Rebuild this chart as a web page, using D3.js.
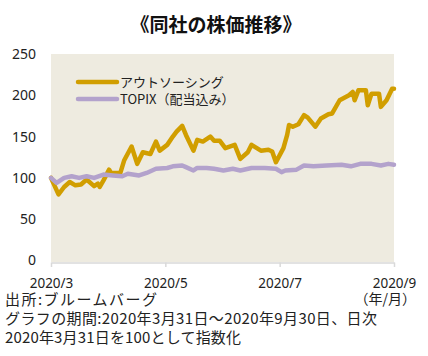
<!DOCTYPE html>
<html><head><meta charset="utf-8">
<script src="https://cdn.jsdelivr.net/npm/d3@7"></script>
<style>body{margin:0;background:#fff;}svg{display:block;}</style>
</head><body>
<svg id="c" width="428" height="356"></svg>
<script>
const title = "《同社の株価推移》";
const seriesNames = ["アウトソーシング", "TOPIX（配当込み）"];
const yTicks = [0, 50, 100, 150, 200, 250];
const xTickDates = ["2020-03-31", "2020-05-31", "2020-07-31", "2020-09-30"];
const outsourcingDates = ["2020-03-31","2020-04-04","2020-04-07","2020-04-10","2020-04-13","2020-04-16","2020-04-19","2020-04-23","2020-04-25","2020-04-26","2020-04-28","2020-05-01","2020-05-02","2020-05-07","2020-05-09","2020-05-13","2020-05-16","2020-05-19","2020-05-23","2020-05-26","2020-05-28","2020-06-01","2020-06-04","2020-06-06","2020-06-09","2020-06-11","2020-06-15","2020-06-17","2020-06-20","2020-06-24","2020-06-26","2020-06-29","2020-07-02","2020-07-07","2020-07-10","2020-07-14","2020-07-16","2020-07-21","2020-07-25","2020-07-27","2020-07-29","2020-08-02","2020-08-04","2020-08-05","2020-08-07","2020-08-10","2020-08-13","2020-08-15","2020-08-19","2020-08-22","2020-08-26","2020-08-28","2020-09-01","2020-09-06","2020-09-08","2020-09-09","2020-09-11","2020-09-15","2020-09-16","2020-09-18","2020-09-22","2020-09-23","2020-09-26","2020-09-29","2020-09-30"];
const outsourcingValues = [100,80,89,95,91,92,98,90,93,89,97,110,106,106,121,138,117,131,129,144,133,140,150,156,163,152,133,146,144,150,145,145,136,140,123,131,140,133,134,132,119,136,152,164,162,165,176,173,162,172,177,178,194,200,204,194,206,206,188,202,202,186,194,208,208];
const topixDates = ["2020-03-31","2020-04-03","2020-04-07","2020-04-11","2020-04-15","2020-04-19","2020-04-23","2020-04-28","2020-05-03","2020-05-08","2020-05-11","2020-05-17","2020-05-21","2020-05-26","2020-06-01","2020-06-04","2020-06-09","2020-06-11","2020-06-15","2020-06-17","2020-06-22","2020-06-26","2020-07-01","2020-07-06","2020-07-10","2020-07-16","2020-07-23","2020-07-29","2020-08-01","2020-08-03","2020-08-09","2020-08-13","2020-08-18","2020-08-25","2020-09-02","2020-09-07","2020-09-12","2020-09-18","2020-09-23","2020-09-27","2020-09-30"];
const topixValues = [100,94,100,102,100,102,100,104,103,102,105,103,106,111,112,114,115,113,109,112,112,111,109,111,109,112,112,111,107,109,110,115,114,115,116,114,117,117,115,117,116];
const notes = ["出所:ブルームバーグ", "グラフの期間:2020年3月31日～2020年9月30日、日次", "2020年3月31日を100として指数化"];
const unitLabel = "（年/月）";

const parse = d3.timeParse("%Y-%m-%d");
const svg = d3.select("#c");
const L = 51, R = 394, T = 54, B = 260.5;
const x = d3.scaleTime().domain([parse("2020-03-31"), parse("2020-09-30")]).range([L, R]);
const y = d3.scaleLinear().domain([0, 250]).range([B, T]);

svg.append("text").attr("x", 216).attr("y", 32).attr("text-anchor", "middle")
  .attr("font-family", "'Noto Sans CJK JP'").attr("font-weight", "bold").attr("font-size", 19)
  .attr("fill", "#111").text(title);

svg.append("rect").attr("x", L).attr("y", T).attr("width", R - L).attr("height", B - T + 1.5).attr("fill", "#EEEBE0");

// y axis labels
const yAxis = d3.axisLeft(y).tickValues(yTicks).tickSize(0).tickPadding(15);
const gy = svg.append("g").attr("transform", `translate(${L},0)`).call(yAxis);
gy.select(".domain").remove();
gy.selectAll("text").attr("font-family", "'Noto Sans', sans-serif").attr("font-size", 14).attr("fill", "#222");

// x axis
const xAxis = d3.axisBottom(x).tickValues(xTickDates.map(parse)).tickFormat(d3.timeFormat("%Y/%-m")).tickSize(4.5).tickPadding(11).tickSizeOuter(0);
const gx = svg.append("g").attr("transform", `translate(0,${B + 2})`).call(xAxis);
gx.select(".domain").attr("stroke", "#D9D9D9").attr("stroke-width", 1.5);
gx.selectAll("line").attr("stroke", "#D9D9D9").attr("stroke-width", 1.5);
gx.selectAll("text").attr("font-family", "'Noto Sans', sans-serif").attr("font-size", 13.5).attr("fill", "#222");

const line = d3.line().x(d => x(d[0])).y(d => y(d[1]));
const oData = outsourcingDates.map((d, i) => [parse(d), outsourcingValues[i]]);
const tData = topixDates.map((d, i) => [parse(d), topixValues[i]]);
const colors = ["#D19E00", "#B3A2CC"];

svg.append("path").datum(oData).attr("d", line).attr("fill", "none").attr("stroke", colors[0])
  .attr("stroke-width", 4.5).attr("stroke-linejoin", "round").attr("stroke-linecap", "round");
svg.append("path").datum(tData).attr("d", line).attr("fill", "none").attr("stroke", colors[1])
  .attr("stroke-width", 4.5).attr("stroke-linejoin", "round").attr("stroke-linecap", "round");

// legend
seriesNames.forEach((n, i) => {
  const yy = 82 + i * 17;
  svg.append("line").attr("x1", 78).attr("x2", 117).attr("y1", yy).attr("y2", yy)
    .attr("stroke", colors[i]).attr("stroke-width", 4.5).attr("stroke-linecap", "round");
  svg.append("text").attr("x", 120).attr("y", yy + 5).attr("font-family", "'Noto Sans CJK JP'")
    .attr("font-size", 13).attr("fill", "#222").text(n);
});

svg.append("text").attr("x", 416).attr("y", 304).attr("text-anchor", "end")
  .attr("font-family", "'Noto Sans CJK JP'").attr("font-size", 14).attr("fill", "#222").text(unitLabel);

const noteWidths = [152, 372, 236];
notes.forEach((t, i) => {
  svg.append("text").attr("x", 5).attr("y", 305 + i * 19)
    .attr("font-family", "'Noto Sans CJK JP'").attr("font-size", 15).attr("fill", "#222")
    .attr("textLength", noteWidths[i]).attr("lengthAdjust", "spacing").text(t);
});
</script>
</body></html>
